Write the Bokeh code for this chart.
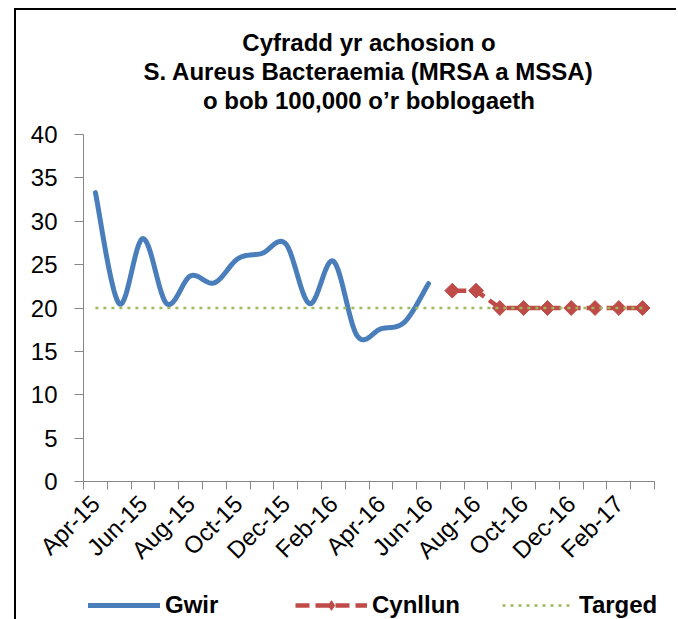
import numpy as np
from bokeh.plotting import figure
from bokeh.layouts import column
from bokeh.models import (ColumnDataSource, Range1d, FixedTicker, Title,
                          Legend, LegendItem)
from bokeh.embed import file_html
from bokeh.resources import INLINE

# ---------------- data ----------------
months = ["Apr-15", "May-15", "Jun-15", "Jul-15", "Aug-15", "Sep-15",
          "Oct-15", "Nov-15", "Dec-15", "Jan-16", "Feb-16", "Mar-16",
          "Apr-16", "May-16", "Jun-16", "Jul-16", "Aug-16", "Sep-16",
          "Oct-16", "Nov-16", "Dec-16", "Jan-17", "Feb-17", "Mar-17"]
tick_labels = months[::2]

gwir = [33.3, 20.5, 28.0, 20.5, 23.7, 22.9, 25.7, 26.3, 27.4, 20.5,
        25.4, 16.8, 17.6, 18.4, 22.8]           # Apr-15 .. Jun-16
cynllun = [22.0, 22.0, 20.0, 20.0, 20.0, 20.0, 20.0, 20.0, 20.0]  # Jul-16 .. Mar-17
targed = [20.0] * 24                              # Apr-15 .. Mar-17

series_names = ["Gwir", "Cynllun", "Targed"]
title_lines = ["Cyfradd yr achosion o",
               "S. Aureus Bacteraemia (MRSA a MSSA)",
               "o bob 100,000 o\u2019r boblogaeth"]

FONT = "Liberation Sans"
BLUE, RED, GREEN, AXIS = "#4A7EBB", "#BE4B48", "#9BBB59", "#868686"

# --------- smoothing (Excel-like "smoothed line" rendering) ---------
def smooth(xs, ys, n=24):
    pts = [np.array([x, y], dtype=float) for x, y in zip(xs, ys)]
    P = [pts[0]] + pts + [pts[-1]]
    ox, oy = [], []
    segs = len(pts) - 1
    for i in range(segs):
        p0, p1, p2, p3 = P[i], P[i + 1], P[i + 2], P[i + 3]
        c1 = p1 + (p2 - p0) / 6.0
        c2 = p2 - (p3 - p1) / 6.0
        t = np.linspace(0, 1, n, endpoint=(i == segs - 1))[:, None]
        b = ((1 - t) ** 3) * p1 + 3 * (1 - t) ** 2 * t * c1 + 3 * (1 - t) * t ** 2 * c2 + t ** 3 * p2
        ox.extend(b[:, 0].tolist())
        oy.extend(b[:, 1].tolist())
    return ox, oy

gx = list(range(len(gwir)))
sx, sy = smooth(gx, gwir)
src_gwir = ColumnDataSource(dict(x=sx, y=sy))
src_cyn = ColumnDataSource(dict(x=list(range(len(gwir), len(gwir) + len(cynllun))), y=cynllun))
src_tar = ColumnDataSource(dict(x=list(range(len(targed))), y=targed))

W = 660

# ---------------- main figure ----------------
p = figure(width=W, height=580,
           x_range=Range1d(-0.5, len(months) - 0.5), y_range=Range1d(0, 40),
           output_backend="svg", toolbar_location=None,
           min_border_left=67, min_border_right=22,
           min_border_top=124, min_border_bottom=109,
           background_fill_color="white", border_fill_color="white")
p.outline_line_color = None
p.xgrid.visible = False
p.ygrid.visible = False
p.frame_align = False

# title: spacer + three centred lines (added nearest-first)
p.add_layout(Title(text="\u00a0", text_font=FONT, text_font_size="17px",
                   standoff=0), "above")
for line in reversed(title_lines):
    p.add_layout(Title(text=line, align="center", text_font=FONT,
                       text_font_size="24px", text_font_style="bold",
                       text_color="black", standoff=0), "above")

# x axis
xa = p.xaxis[0]
xa.ticker = FixedTicker(ticks=list(range(0, len(months), 2)),
                        minor_ticks=[i - 0.5 for i in range(len(months) + 1)])
xa.major_label_overrides = {i: months[i] for i in range(0, len(months), 2)}
xa.major_tick_out = 0
xa.major_tick_in = 0
xa.minor_tick_out = 8
xa.minor_tick_in = 0
xa.major_label_orientation = np.pi / 4
xa.major_label_standoff = 10
xa.major_label_text_font = FONT
xa.major_label_text_font_size = "24px"
xa.major_label_text_color = "black"
xa.axis_line_color = AXIS
xa.minor_tick_line_color = AXIS

# y axis
ya = p.yaxis[0]
ya.ticker = FixedTicker(ticks=list(range(0, 41, 5)), minor_ticks=[])
ya.major_tick_out = 9
ya.major_tick_in = 0
ya.minor_tick_out = 0
ya.minor_tick_in = 0
ya.major_label_standoff = 17
ya.major_label_text_font = FONT
ya.major_label_text_font_size = "24px"
ya.major_label_text_color = "black"
ya.axis_line_color = AXIS
ya.major_tick_line_color = AXIS

# ---------------- series ----------------
p.line("x", "y", source=src_gwir, line_color=BLUE,
       line_width=5, line_join="round", line_cap="round")
p.line("x", "y", source=src_cyn, line_color=RED,
       line_width=4.5, line_dash="14 6")
p.scatter("x", "y", source=src_cyn, marker="square",
          angle=np.pi / 4, size=10.5, fill_color=RED, line_color=RED)
p.line("x", "y", source=src_tar, line_color=GREEN,
       line_width=2.5, line_dash="3 5")

# ---------------- legend strip (own small figure below) ----------------
lf = figure(width=W, height=29, x_range=Range1d(0, 1), y_range=Range1d(0, 1),
            x_axis_location=None, y_axis_location=None,
            output_backend="svg", toolbar_location=None,
            min_border=0, min_border_left=0, min_border_right=0,
            min_border_top=0, min_border_bottom=0,
            background_fill_color="white", border_fill_color="white")
lf.outline_line_color = None
lf.grid.visible = False
lf.frame_align = False
nan = [float("nan")]   # legend-only proxies: nothing is drawn in the strip
g1 = lf.line(x=nan, y=nan, line_color=BLUE, line_width=5, line_cap="round")
g2l = lf.line(x=nan, y=nan, line_color=RED, line_width=4.5, line_dash="14 6")
g2m = lf.scatter(x=nan, y=nan, marker="diamond", size=21,
                 fill_color=RED, line_color=RED)
g3 = lf.line(x=nan, y=nan, line_color=GREEN, line_width=2.5, line_dash="3 5")

legend = Legend(items=[LegendItem(label=series_names[0], renderers=[g1]),
                       LegendItem(label=series_names[1], renderers=[g2l, g2m]),
                       LegendItem(label=series_names[2], renderers=[g3])],
                location=(72, 0), orientation="horizontal",
                glyph_width=72, glyph_height=24, label_height=24,
                label_width=100, label_standoff=5, spacing=30,
                padding=0, margin=0,
                border_line_color=None, background_fill_alpha=0,
                label_text_font=FONT, label_text_font_size="24px",
                label_text_font_style="bold", label_text_color="black")
lf.add_layout(legend, "center")

layout = column(p, lf, spacing=0)
layout.margin = (8, 0, 0, 14)
layout.styles = {"border-left": "2px solid #000", "border-top": "2px solid #000"}

open("out.html", "w").write(file_html(layout, INLINE))
